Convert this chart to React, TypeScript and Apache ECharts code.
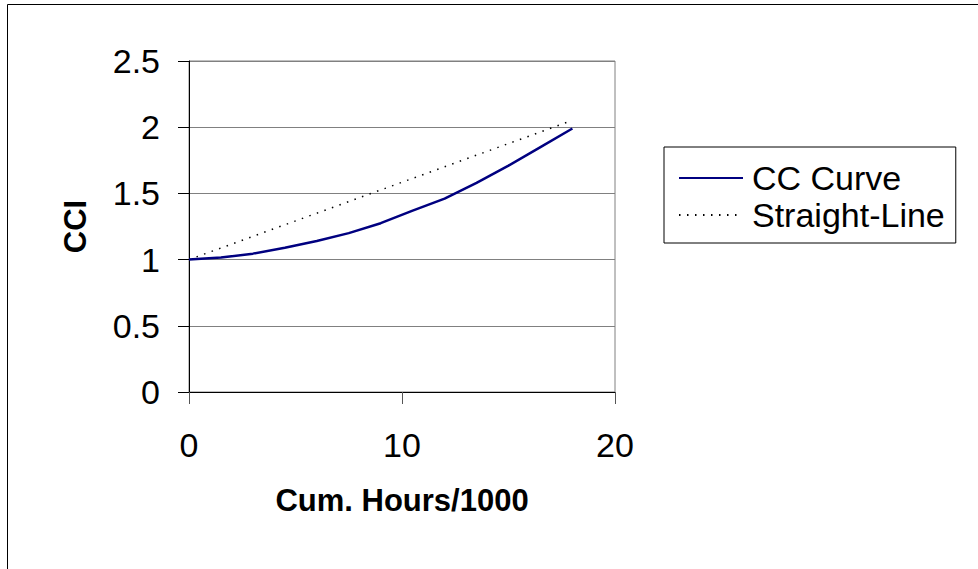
import React, { useEffect, useRef } from "react";
import * as echarts from "echarts";

const ccX = [0, 1.5, 3, 4.5, 6, 7.5, 9, 10.5, 12, 13.5, 15, 16.5, 18];
const ccY = [1.0, 1.015, 1.045, 1.09, 1.14, 1.2, 1.275, 1.37, 1.46, 1.58, 1.71, 1.85, 1.99];
const straightX = [0, 17.8];
const straightY = [1.0, 2.04];
const seriesNames = ["CC Curve", "Straight-Line"];
const xTitle = "Cum. Hours/1000";
const yTitle = "CCI";

const FONT = "'Liberation Sans', Arial, sans-serif";

export default function App() {
  const ref = useRef<HTMLDivElement>(null);
  useEffect(() => {
    if (!ref.current) return;
    const chart = echarts.init(ref.current, null, { renderer: "svg" });
    chart.setOption({
      animation: false,
      backgroundColor: "#fff",
      textStyle: { fontFamily: FONT },
      graphic: [
        {
          type: "rect",
          shape: { x: 7.5, y: 4.5, width: 1100, height: 700 },
          style: { fill: "none", stroke: "#000", lineWidth: 1 },
          silent: true,
          z: -1,
        },
      ],
      grid: {
        left: 189,
        top: 61,
        width: 426,
        height: 331,
        show: true,
        borderColor: "#808080",
        borderWidth: 1,
      },
      legend: {
        left: 664,
        top: 147,
        orient: "vertical",
        padding: [14, 11, 11, 14],
        borderColor: "#000",
        borderWidth: 1,
        itemWidth: 64,
        itemHeight: 14,
        itemGap: 3,
        itemStyle: { opacity: 0 },
        textStyle: { fontFamily: FONT, fontSize: 34, color: "#000", lineHeight: 34, padding: [0, 0, 0, 4] },
        data: seriesNames,
      },
      xAxis: {
        type: "value",
        min: 0,
        max: 20,
        interval: 10,
        name: xTitle,
        nameLocation: "middle",
        nameGap: 93,
        nameTextStyle: { fontFamily: FONT, fontSize: 31, fontWeight: "bold", color: "#000" },
        axisLine: { show: true, lineStyle: { color: "#000", width: 1 } },
        axisTick: { show: true, length: 12, lineStyle: { color: "#555", width: 1 } },
        axisLabel: { margin: 36, fontFamily: FONT, fontSize: 34, color: "#000" },
        splitLine: { show: false },
      },
      yAxis: {
        type: "value",
        min: 0,
        max: 2.5,
        interval: 0.5,
        name: yTitle,
        nameLocation: "middle",
        nameGap: 98,
        nameRotate: 90,
        nameTextStyle: { fontFamily: FONT, fontSize: 31, fontWeight: "bold", color: "#000" },
        axisLine: { show: true, lineStyle: { color: "#000", width: 1 } },
        axisTick: { show: true, length: 11, lineStyle: { color: "#000", width: 1 } },
        axisLabel: { margin: 29, fontFamily: FONT, fontSize: 34, color: "#000" },
        splitLine: { show: true, lineStyle: { color: "#808080", width: 1 } },
      },
      series: [
        {
          name: seriesNames[0],
          type: "line",
          symbol: "none",
          data: ccX.map((x, i) => [x, ccY[i]]),
          lineStyle: { color: "#000080", width: 2.5 },
          itemStyle: { color: "#000080" },
          z: 3,
        },
        {
          name: seriesNames[1],
          type: "line",
          symbol: "none",
          data: straightX.map((x, i) => [x, straightY[i]]),
          lineStyle: { color: "#000", width: 1.5, type: [1.5, 6.5] },
          itemStyle: { color: "#000" },
          z: 2,
        },
      ],
    });
    return () => chart.dispose();
  }, []);
  return (
    <div
      ref={ref}
      style={{ position: "absolute", left: 0, top: 0, width: 978, height: 569 }}
    />
  );
}
